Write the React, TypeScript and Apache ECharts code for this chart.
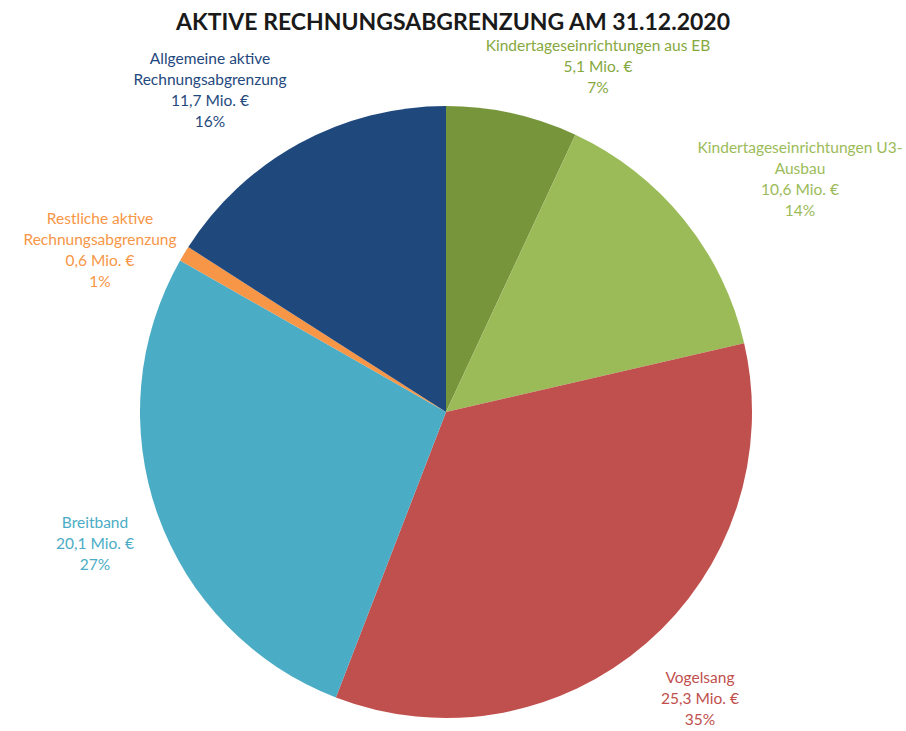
import React, { useEffect, useRef } from "react";
import * as echarts from "echarts";

const categories = [
  "Kindertageseinrichtungen aus EB",
  "Kindertageseinrichtungen U3-\nAusbau",
  "Vogelsang",
  "Breitband",
  "Restliche aktive\nRechnungsabgrenzung",
  "Allgemeine aktive\nRechnungsabgrenzung",
];
const values = [5.1, 10.6, 25.3, 20.1, 0.6, 11.7];
const sliceColors = ["#77963c", "#9bbb59", "#c0504d", "#4bacc6", "#f79646", "#1f497d"];
const labelColors = ["#86a83e", "#9bbb59", "#c0504d", "#4bacc6", "#f79646", "#1f497d"];
const title = "AKTIVE RECHNUNGSABGRENZUNG AM 31.12.2020";

const labelPos: [number, number][] = [
  [598, 34],
  [800, 136],
  [700, 666],
  [95, 511],
  [100, 207],
  [210, 47],
];

export default function App() {
  const ref = useRef<HTMLDivElement>(null);
  useEffect(() => {
    if (!ref.current) return;
    const chart = echarts.init(ref.current, null, { renderer: "svg" });
    chart.setOption({
      animation: false,
      backgroundColor: "#ffffff",
      title: {
        text: title,
        left: "center",
        top: 4,
        textStyle: { fontFamily: "Lato", fontWeight: "bold", fontSize: 23, color: "#1a1a1a" },
      },
      series: [
        {
          type: "pie",
          center: [446, 412],
          radius: 306,
          startAngle: 90,
          clockwise: true,
          percentPrecision: 0,
          data: categories.map((name, i) => ({
            name,
            value: values[i],
            itemStyle: { color: sliceColors[i] },
            label: { color: labelColors[i] },
          })),
          itemStyle: { borderWidth: 0 },
          labelLine: { show: false },
          label: {
            show: true,
            position: "outside",
            fontFamily: "Lato",
            fontSize: 15.5,
            lineHeight: 21,
            align: "center",
            overflow: "none",
            width: 400,
            formatter: (p: any) =>
              `${p.name}\n${String(p.value).replace(".", ",")} Mio. €\n${p.percent}%`,
          },
          labelLayout: (p: any) => {
            const pos = labelPos[p.dataIndex];
            return { x: pos[0], y: pos[1], align: "center", verticalAlign: "top" };
          },
          emphasis: { disabled: true },
        },
      ],
    });
    return () => chart.dispose();
  }, []);
  return (
    <div
      ref={ref}
      style={{ position: "fixed", left: 0, top: 0, width: 906, height: 731 }}
    />
  );
}
